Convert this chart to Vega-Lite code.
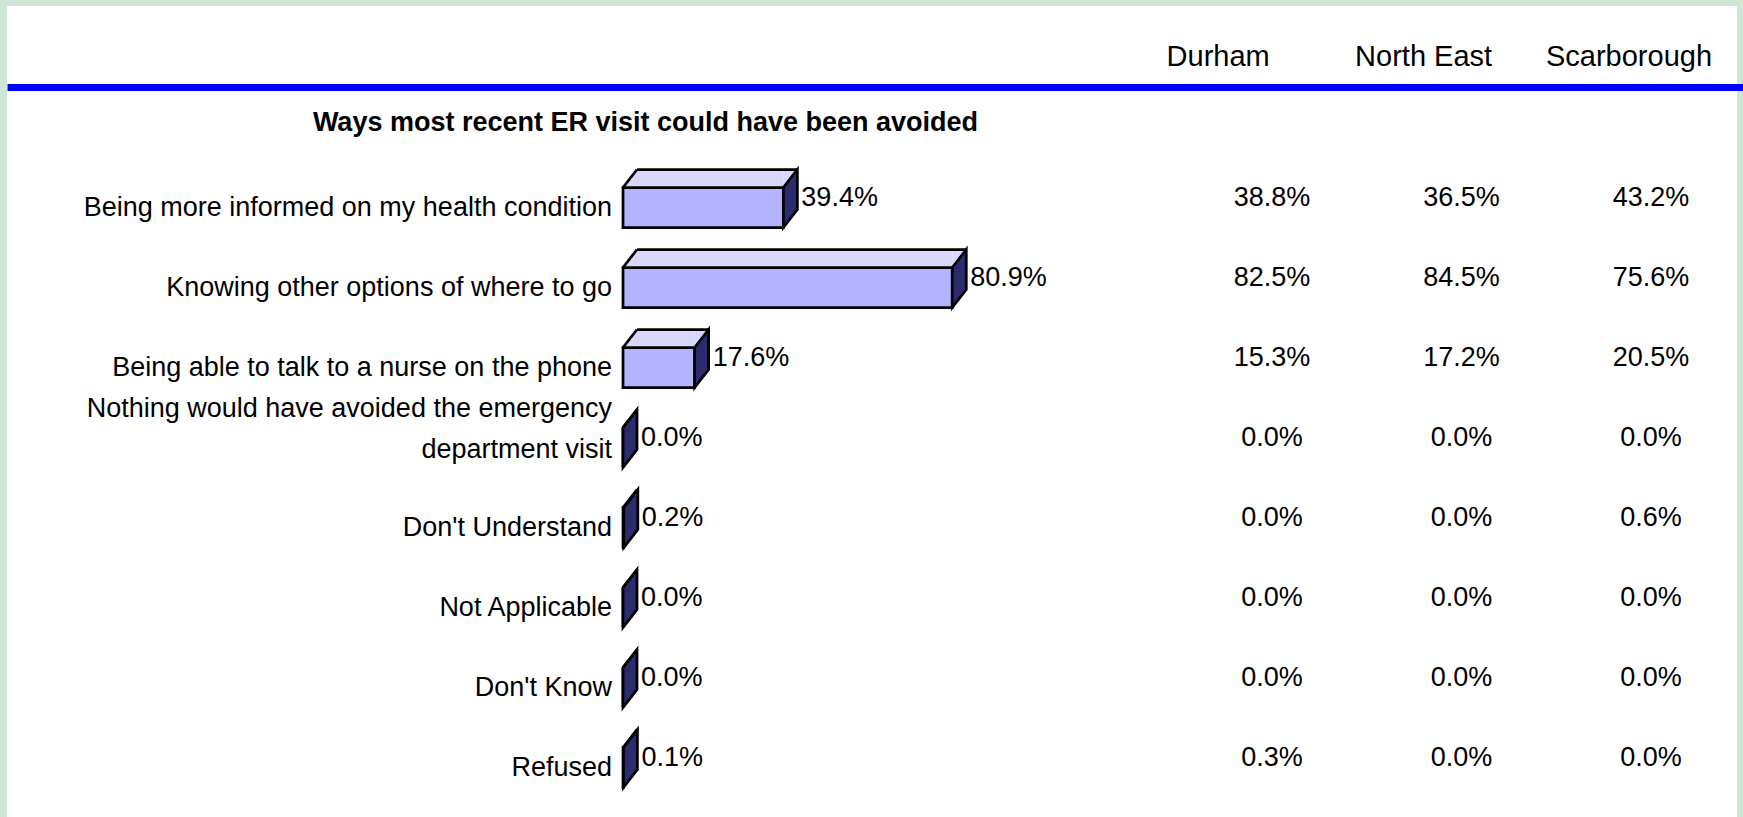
{
  "$schema": "https://vega.github.io/schema/vega-lite/v6.json",
  "width": 1730,
  "height": 811,
  "autosize": {"type": "none"},
  "padding": {"left": 7, "top": 6, "right": 6, "bottom": 0},
  "background": "#cde6d5",
  "view": {"fill": "white", "stroke": null},
  "data": {
    "values": [
      {"label": "Being more informed on my health condition", "total": 0.394, "Durham": 0.388, "North East": 0.365, "Scarborough": 0.432},
      {"label": "Knowing other options of where to go", "total": 0.809, "Durham": 0.825, "North East": 0.845, "Scarborough": 0.756},
      {"label": "Being able to talk to a nurse on the phone", "total": 0.176, "Durham": 0.153, "North East": 0.172, "Scarborough": 0.205},
      {"label": "Nothing would have avoided the emergency\ndepartment visit", "total": 0.0, "Durham": 0.0, "North East": 0.0, "Scarborough": 0.0},
      {"label": "Don't Understand", "total": 0.002, "Durham": 0.0, "North East": 0.0, "Scarborough": 0.006},
      {"label": "Not Applicable", "total": 0.0, "Durham": 0.0, "North East": 0.0, "Scarborough": 0.0},
      {"label": "Don't Know", "total": 0.0, "Durham": 0.0, "North East": 0.0, "Scarborough": 0.0},
      {"label": "Refused", "total": 0.001, "Durham": 0.003, "North East": 0.0, "Scarborough": 0.0}
    ]
  },
  "encoding": {
    "y": {
      "field": "label",
      "type": "nominal",
      "sort": null,
      "scale": {"type": "band", "range": [161.5, 801.5], "paddingInner": 0, "paddingOuter": 0},
      "axis": null
    }
  },
  "layer": [
    {
      "encoding": {
        "x": {
          "field": "total",
          "type": "quantitative",
          "scale": {"domain": [0, 1], "range": [616, 1023], "nice": false, "zero": true},
          "axis": null
        }
      },
      "layer": [
        {
          "mark": {"type": "bar", "height": 18, "yOffset": -29, "fill": "#d8d8ff", "strokeWidth": 0}
        },
        {
          "mark": {"type": "point", "shape": "M0,-20L0,-38L14,-38Z", "size": 4, "filled": true, "fill": "#d8d8ff", "strokeWidth": 0, "opacity": 1}
        },
        {
          "mark": {"type": "point", "shape": "M0,-20L0,-38L14,-38Z", "size": 4, "filled": true, "fill": "white", "strokeWidth": 0, "opacity": 1},
          "encoding": {"x": {"datum": 0, "type": "quantitative"}}
        },
        {
          "mark": {"type": "bar", "height": 40, "fill": "#b3b3ff", "stroke": "black", "strokeWidth": 2.75, "strokeJoin": "miter"}
        },
        {
          "mark": {"type": "point", "shape": "M0,-20L14,-38L14,2L0,20Z", "size": 4, "filled": true, "fill": "#2b2b6e", "stroke": "black", "strokeWidth": 2.75, "strokeJoin": "miter", "opacity": 1}
        },
        {
          "mark": {"type": "point", "shape": "M0,-20L14,-38", "size": 4, "filled": false, "fill": null, "stroke": "black", "strokeWidth": 2.75, "opacity": 1},
          "encoding": {"x": {"datum": 0, "type": "quantitative"}}
        },
        {
          "mark": {"type": "rule", "xOffset": 14, "x2Offset": 14, "yOffset": -38, "color": "black", "strokeWidth": 2.75},
          "encoding": {"x2": {"datum": 0}}
        },
        {
          "mark": {"type": "text", "align": "left", "baseline": "middle", "dx": 18, "dy": -10, "fontSize": 27, "font": "Liberation Sans, Arial, sans-serif", "color": "black"},
          "encoding": {"text": {"field": "total", "type": "quantitative", "format": ".1%"}}
        },
        {
          "transform": [{"filter": "indexof(datum.label, '\\n') < 0"}],
          "mark": {"type": "text", "align": "right", "baseline": "middle", "dx": -11, "dy": 0, "fontSize": 27, "font": "Liberation Sans, Arial, sans-serif", "color": "black"},
          "encoding": {
            "x": {"datum": 0, "type": "quantitative"},
            "text": {"field": "label", "type": "nominal"}
          }
        },
        {
          "transform": [{"filter": "indexof(datum.label, '\\n') >= 0"}],
          "mark": {"type": "text", "align": "right", "baseline": "middle", "dx": -11, "dy": -39, "lineBreak": "\n", "lineHeight": 41, "fontSize": 27, "font": "Liberation Sans, Arial, sans-serif", "color": "black"},
          "encoding": {
            "x": {"datum": 0, "type": "quantitative"},
            "text": {"field": "label", "type": "nominal"}
          }
        }
      ]
    },
    {
      "transform": [{"fold": ["Durham", "North East", "Scarborough"], "as": ["region", "pct"]}],
      "mark": {"type": "text", "align": "center", "baseline": "middle", "dy": -10, "fontSize": 27, "font": "Liberation Sans, Arial, sans-serif", "color": "black"},
      "encoding": {
        "x": {
          "field": "region",
          "type": "nominal",
          "scale": {"type": "point", "domain": ["Durham", "North East", "Scarborough"], "range": [1265, 1644], "padding": 0},
          "axis": null
        },
        "text": {"field": "pct", "type": "quantitative", "format": ".1%"}
      }
    },
    {
      "transform": [{"fold": ["Durham", "North East", "Scarborough"], "as": ["region", "pct"]}],
      "mark": {"type": "point", "opacity": 0},
      "encoding": {
        "x": {
          "field": "region",
          "type": "nominal",
          "scale": {"type": "point", "domain": ["Durham", "North East", "Scarborough"], "range": [1210.7, 1621.5], "padding": 0},
          "axis": {
            "orient": "top",
            "offset": -81,
            "title": null,
            "grid": false,
            "ticks": false,
            "domain": false,
            "labelAngle": 0,
            "labelPadding": 31,
            "labelBaseline": "middle",
            "labelFont": "Liberation Sans, Arial, sans-serif",
            "labelFontSize": 29,
            "labelColor": "black"
          }
        }
      }
    },
    {
      "mark": {"type": "point", "opacity": 0},
      "encoding": {
        "x": {
          "datum": 0,
          "type": "quantitative",
          "scale": {"domain": [0, 1], "range": [0, 1736], "nice": false},
          "axis": {
            "orient": "top",
            "offset": -81,
            "grid": false,
            "ticks": false,
            "labels": false,
            "domainColor": "#0000ff",
            "domainWidth": 7,
            "domainCap": "butt",
            "title": "Ways most recent ER visit could have been avoided",
            "titleX": 638,
            "titleY": 35,
            "titleAlign": "center",
            "titleAnchor": null,
            "titleBaseline": "middle",
            "titleAngle": 0,
            "titleFont": "Liberation Sans, Arial, sans-serif",
            "titleFontSize": 27,
            "titleFontWeight": "bold",
            "titleColor": "black"
          }
        }
      }
    }
  ],
  "resolve": {"scale": {"x": "independent"}}
}
